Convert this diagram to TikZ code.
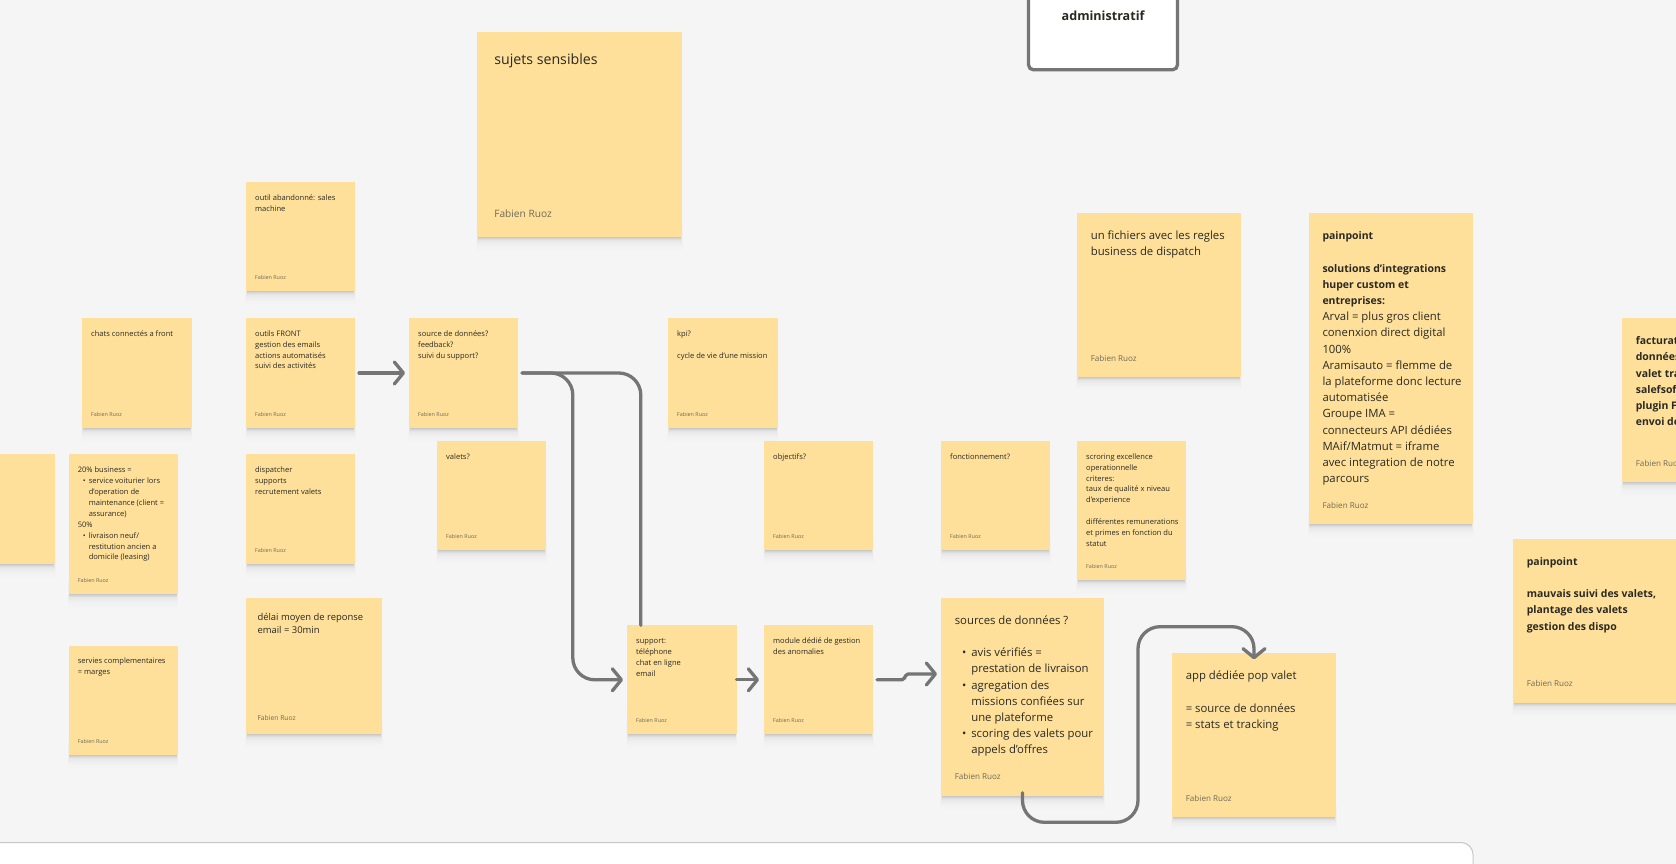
\documentclass[tikz,border=0pt]{standalone}
\usepackage{fontspec}
\setmainfont{Open Sans}[BoldFeatures={Scale=0.925}]
\usetikzlibrary{arrows.meta}
\definecolor{bgc}{HTML}{F5F5F5}
\definecolor{stickyc}{HTML}{FEE09A}
\definecolor{inkc}{HTML}{2A2923}
\definecolor{authc}{HTML}{6F6A58}
\definecolor{linkc}{HTML}{757575}
\newlength\indl
\tikzset{
  x=1pt,y=-1pt,
  stickybox/.style={draw=none,fill=stickyc,inner sep=0pt,outer sep=0pt,anchor=north west},
  bodytxt/.style={inner sep=0pt,outer sep=0pt,anchor=north west,align=left,text=inkc},
  authtxt/.style={inner sep=0pt,outer sep=0pt,anchor=west,text=authc},
  link/.style={draw=linkc,line width=3.3pt,line cap=round,line join=round,rounded corners=22pt},
  tip/.style={-{Straight Barb[length=9pt,width=22pt,line width=3.3pt,round]}},
}
% k = scale, name, x1,y1,x2,y2, body
\newcommand{\sticky}[7]{%
  \pgfmathsetmacro{\kk}{#1}%
  \foreach \dd/\op in {1/.045,2/.04,3/.03,4/.02,6/.016,8/.012,10/.008,13/.006}{
    \fill[black,opacity=\op] ({#3+1-\dd*0.15},{#6-12}) rectangle ({#5-1+\dd*0.15},{#6+\dd});
  }
  \node[stickybox,minimum width={(#5-#3)*1pt},minimum height={(#6-#4)*1pt}] (#2) at (#3,#4) {};
  \pgfmathsetlengthmacro{\fs}{7.55pt*\kk}%
  \pgfmathsetlengthmacro{\ls}{0.4pt+10.53pt*\kk}%
  \pgfmathsetlengthmacro{\sh}{8pt*\kk}%
  \pgfmathsetlength{\indl}{11pt*\kk}%
  \node[bodytxt,font=\fontsize{\fs}{\ls}\selectfont] (#2-t) at ({#3+9.2*\kk},{#4+1.8+8.4*\kk}) {\rule{0pt}{\sh}#7};
  \pgfmathsetlengthmacro{\as}{5.4pt*\kk}%
  \node[authtxt,font=\fontsize{\as}{\as}\selectfont] (#2-a) at ({#3+9.2*\kk},{#6-2.8-10.8*\kk}) {Fabien Ruoz};
}
\newcommand{\bul}{\makebox[\indl][l]{\hspace*{0.45\indl}•}}
\newcommand{\inn}{\hspace*{\indl}}
\begin{document}
\begin{tikzpicture}
\useasboundingbox (0,0) rectangle (1676,864);
\fill[bgc] (0,0) rectangle (1676,864);
\begin{scope}
\clip (0,0) rectangle (1676,864);
% bottom panel
\path[fill=white,draw=black!22,line width=1pt,rounded corners=12pt] (-30,842.5) -- (1473,842.5) -- (1473,900) -- (-30,900) -- cycle;
% white card
\node[draw=linkc,fill=white,line width=3.3pt,rounded corners=5pt,outer sep=0pt,minimum width=149pt,minimum height=110pt,inner sep=0pt,anchor=south west] (admin) at (1028.5,69.8) {};
\node[inner sep=0pt,anchor=west,text=inkc,font=\fontsize{13.6pt}{16pt}\selectfont\bfseries] (admin-t) at (1061.5,15.5) {administratif};
\node[inner sep=0pt,anchor=west,text=inkc,font=\fontsize{13.6pt}{16pt}\selectfont\bfseries] (admin-g) at (1061.5,-6.5) {gestion};

\sticky{1.88}{sujets}{477}{32}{682}{237}{sujets sensibles}
\sticky{1}{abandon}{246}{182}{355}{291}{outil abandonné: sales\\machine}
\sticky{1}{chats}{82}{318}{191.5}{428}{chats connectés a front}
\sticky{1}{front}{246}{318}{355}{428}{outils FRONT\\gestion des emails\\actions automatisés\\suivi des activités}
\sticky{1}{source}{409}{318}{518}{428}{source de données?\\feedback?\\suivi du support?}
\sticky{1}{kpi}{668}{318}{777.5}{428}{kpi?\\[11pt]cycle de vie d’une mission}
\sticky{1}{valets}{437}{441}{546}{550}{valets?}
\sticky{1}{objectifs}{764}{441}{873}{550}{objectifs?}
\sticky{1}{fonct}{941}{441}{1050}{550}{fonctionnement?}
\sticky{1}{scoring}{1077}{441}{1186}{580}{scroring excellence\\operationnelle\\criteres:\\taux de qualité x niveau\\d’experience\\[11pt]différentes remunerations\\et primes en fonction du\\statut}
\sticky{1}{leftcut}{-54}{454.3}{55}{564}{}
\sticky{1}{biz}{68.6}{454.3}{177.5}{594}{20\% business =\\\bul service voiturier lors\\\inn d’operation de\\\inn maintenance (client =\\\inn assurance)\\50\%\\\bul livraison neuf/\\\inn restitution ancien a\\\inn domicile (leasing)}
\sticky{1}{disp}{246}{454.3}{355}{564}{dispatcher\\supports\\recrutement valets}
\sticky{1}{servies}{68.6}{645.7}{177.5}{755}{servies complementaires\\= marges}
\sticky{1.25}{delai}{246}{598}{382}{734}{délai moyen de reponse\\email = 30min}
\sticky{1}{support}{627}{625.3}{736.5}{734.3}{support:\\téléphone\\chat en ligne\\email}
\sticky{1}{module}{764}{625.3}{873}{734.3}{module dédié de gestion\\des anomalies}
\sticky{1.5}{sources}{941}{598}{1104}{795.7}{sources de données ?\\[16.2pt]\bul avis vérifiés =\\\inn prestation de livraison\\\bul agregation des\\\inn missions confiées sur\\\inn une plateforme\\\bul scoring des valets pour\\\inn appels d’offres}
\sticky{1.5}{regles}{1077}{213.3}{1240.7}{377}{un fichiers avec les regles\\business de dispatch}
\sticky{1.5}{pain}{1308.7}{213.3}{1472.6}{524.3}{\textbf{painpoint}\\[16.2pt]\textbf{solutions d’integrations}\\\textbf{huper custom et}\\\textbf{entreprises:}\\Arval = plus gros client\\conenxion direct digital\\100\%\\Aramisauto = flemme de\\la plateforme donc lecture\\automatisée\\Groupe IMA =\\connecteurs API dédiées\\MAif/Matmut = iframe\\avec integration de notre\\parcours}
\sticky{1.5}{factur}{1622}{318.3}{1786}{482}{\textbf{facturation}\\\textbf{données}\\\textbf{valet tra}\\\textbf{salefsof}\\\textbf{plugin F}\\\textbf{envoi de}}
\sticky{1.5}{pain2}{1513}{539}{1677}{702.7}{\textbf{painpoint}\\[16.2pt]\textbf{mauvais suivi des valets,}\\\textbf{plantage des valets}\\\textbf{gestion des dispo}}
\sticky{1.5}{app}{1172}{653.3}{1336}{817.3}{app dédiée pop valet\\[16.2pt]= source de données\\= stats et tracking}

% connectors
\draw[link,tip] ([xshift=4pt]front.east) -- ([xshift=-4pt]source.west);
\draw[link] ([xshift=4pt]source.east) -- (640.8,373) -- (support.north -| 640.8,0);
\draw[link,tip] ([xshift=4pt]source.east) -- (572.8,373) -- (572.8,679.8) -- ([xshift=-4pt]support.west);
\draw[link,tip,rounded corners=0pt] (support.east) -- ([xshift=-5pt]module.west);
\draw[link,tip,rounded corners=2pt] ([xshift=4pt]module.east) -- (904,679.8) -- (906,674) -- ([xshift=-4pt]sources.west |- 0,674);
\draw[link,tip] ([yshift=3pt]sources.south) -- (1022.4,822.3) -- (1138,822.3) -- (1138,626.7) -- (1254,626.7) -- ([yshift=-6pt]app.north);
\end{scope}
\end{tikzpicture}
\end{document}
